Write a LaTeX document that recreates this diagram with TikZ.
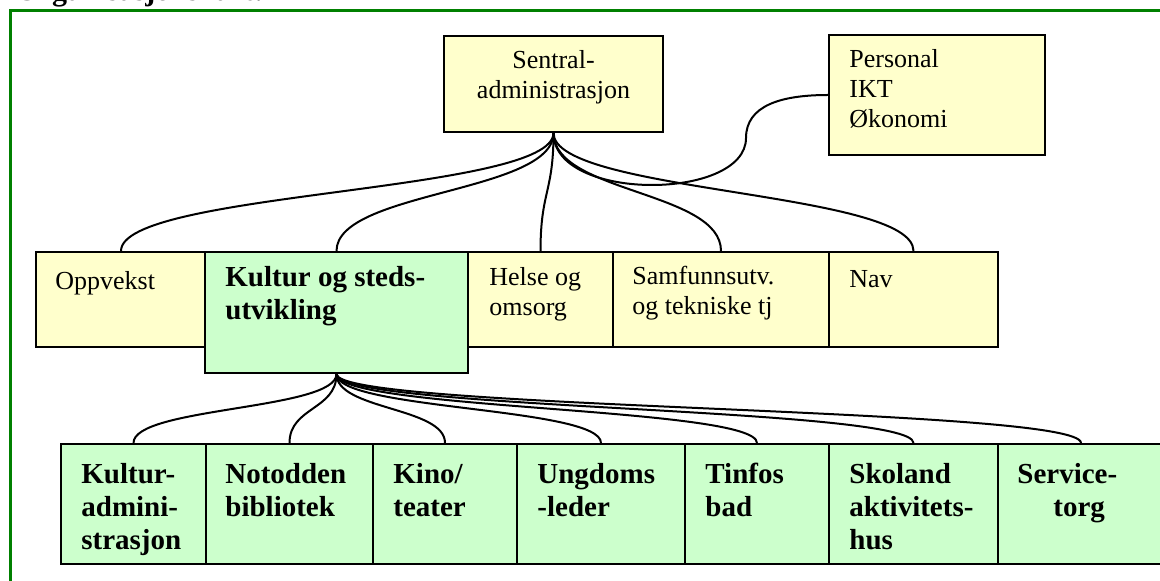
\documentclass[tikz,border=0pt]{standalone}
\usepackage{fontspec}
\setmainfont{Liberation Serif}
\usetikzlibrary{calc}
\definecolor{boxyellow}{HTML}{FFFFCC}
\definecolor{boxgreen}{HTML}{CCFFCC}
\definecolor{framegreen}{HTML}{008000}
\tikzset{
	unit/.style={draw=black, line width=1pt, anchor=north west, inner sep=0pt},
	staff/.style={unit, fill=boxyellow},
	culture/.style={unit, fill=boxgreen},
	lbl/.style={anchor=north west, inner sep=0pt, align=left, font=\fontsize{13}{15}\selectfont, execute at begin node=\strut},
	blbl/.style={lbl, font=\bfseries\fontsize{14.5}{16.5}\selectfont},
	link/.style={line width=1pt},
}

\begin{document}
\begin{tikzpicture}[x=0.5pt, y=-0.5pt]
			%%%%% START %%%%%
			\useasboundingbox (0,0) rectangle (1160,581);
			
			\node[anchor=base west, inner sep=0pt, font=\bfseries\fontsize{15}{18}\selectfont] (title) at (15,0.5) {Organisasjonskart:};
			\draw[framegreen, line width=1.65pt] (10.3,581) -- (10.3,10.5) -- (1160,10.5);
			
			% top
			\node[staff, minimum width=109.5pt, minimum height=48pt] (sentral) at (443,35) {};
			\node[staff, minimum width=108pt, minimum height=60pt] (personal) at (828,34) {};
			
			% middle row
			\node[staff, minimum width=85pt, minimum height=47.5pt] (opp) at (35,251) {};
			\node[culture, minimum width=131.5pt, minimum height=60.5pt] (kultur) at (204,251) {};
			\node[staff, minimum width=72.5pt, minimum height=47.5pt] (helse) at (467,251) {};
			\node[staff, minimum width=108pt, minimum height=47.5pt] (samf) at (612,251) {};
			\node[staff, minimum width=84.5pt, minimum height=47.5pt] (nav) at (828,251) {};
			
			% bottom row
			\node[culture, minimum width=72.5pt, minimum height=60pt] (kadm) at (60,443) {};
			\node[culture, minimum width=83.5pt, minimum height=60pt] (bibl) at (205,443) {};
			\node[culture, minimum width=72pt, minimum height=60pt] (kino) at (372,443) {};
			\node[culture, minimum width=84pt, minimum height=60pt] (ungd) at (516,443) {};
			\node[culture, minimum width=72pt, minimum height=60pt] (tinfos) at (684,443) {};
			\node[culture, minimum width=84.5pt, minimum height=60pt] (skol) at (828,443) {};
			\node[culture, minimum width=83pt, minimum height=60pt] (serv) at (997,443) {};
			
			% texts
			\node[lbl, align=center, anchor=north] (sentraltxt) at ($(sentral.north)+(0,15)$) {Sentral-\\administrasjon};
			\node[lbl] (personaltxt) at ($(personal.north west)+(21,15)$) {Personal\\IKT\\Økonomi};
			\node[lbl] (opptxt) at ($(opp.north west)+(20,17)$) {Oppvekst};
			\node[blbl] (kulturtxt) at ($(kultur.north west)+(21,15)$) {Kultur og steds-\\utvikling};
			\node[lbl] (helsetxt) at ($(helse.north west)+(22,16)$) {Helse og\\omsorg};
			\node[lbl] (samftxt) at ($(samf.north west)+(20,15)$) {Samfunnsutv.\\og tekniske tj};
			\node[lbl] (navtxt) at ($(nav.north west)+(21,15)$) {Nav};
			\node[blbl] (kadmtxt) at ($(kadm.north west)+(21,20)$) {Kultur-\\admini-\\strasjon};
			\node[blbl] (bibltxt) at ($(bibl.north west)+(20,20)$) {Notodden\\bibliotek};
			\node[blbl] (kinotxt) at ($(kino.north west)+(21,20)$) {Kino/\\teater};
			\node[blbl] (ungdtxt) at ($(ungd.north west)+(21,20)$) {Ungdoms\\-leder};
			\node[blbl] (tinfostxt) at ($(tinfos.north west)+(21,20)$) {Tinfos\\bad};
			\node[blbl] (skoltxt) at ($(skol.north west)+(21,20)$) {Skoland\\aktivitets-\\hus};
			\node[blbl] (servtxt) at ($(serv.north west)+(20,20)$) {Service-\\\hspace*{18pt}torg};
			
			% connectors
			\foreach \t in {opp,kultur,helse,samf,nav}
				\draw[link] (sentral.south) .. controls +(0,60) and +(0,-60) .. (\t.north);
			\draw[link] (sentral.south) .. controls +(0,69) and +(0,63) .. ($(personal.west)+(-82,43)$) .. controls +(0,-32) and +(-48,0) .. (personal.west);
			\foreach \t in {kadm,bibl,kino,ungd,tinfos,skol,serv}
				\draw[link] (kultur.south) .. controls +(0,36) and +(0,-36) .. (\t.north);
			
			%%%%% END %%%%%
\end{tikzpicture}
\end{document}
